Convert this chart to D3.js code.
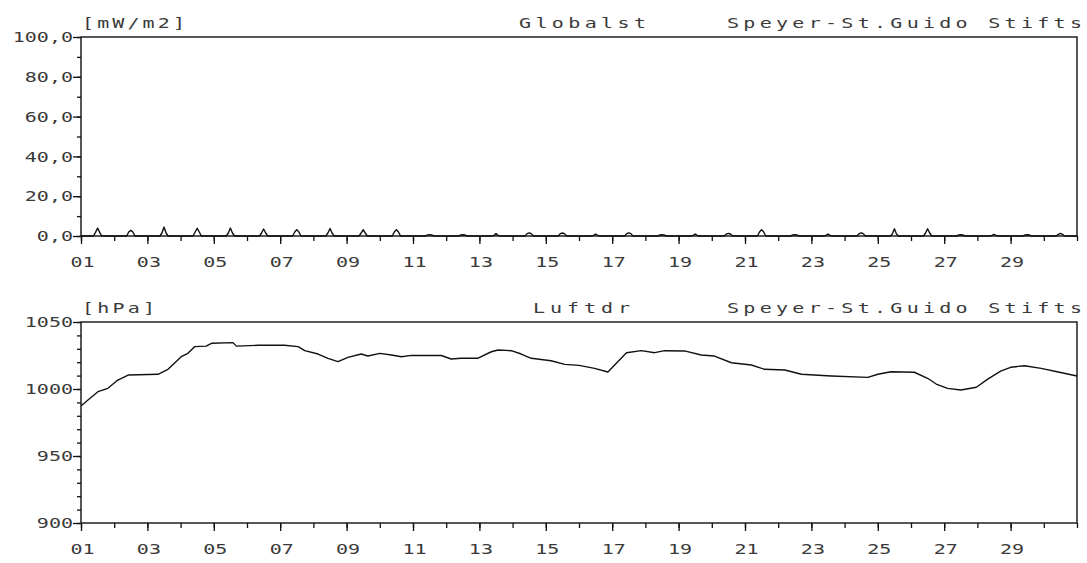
<!DOCTYPE html>
<html><head><meta charset="utf-8">
<script src="https://cdn.jsdelivr.net/npm/d3@7"></script>
<style>
body{margin:0;background:#fff;}
svg text{font-family:"DejaVu Sans Mono",monospace;fill:#3a3a3a;}
</style></head>
<body><svg id="c" width="1087" height="563"></svg>
<script>
// ---- data ----
const station = "Speyer-St.Guido Stifts";
const solarTitle = "Globalst", solarUnit = "[mW/m2]";
const pressTitle = "Luftdr", pressUnit = "[hPa]";
const days = d3.range(1, 31);               // day of month
const solarHours = [9, 10.5, 12, 13.5, 15]; // hours of each daily sample
const solarValues = [
 [0,1.8,4,1.8,0],[0,2,2.8,2,0],[0,1.5,4.5,1.5,0],[0,2,3.8,2,0],[0,1.5,4,1.5,0],
 [0,1.5,3.5,1.5,0],[0,2,3.2,2,0],[0,1.5,3.8,1.5,0],[0,1.5,3.2,1.5,0],[0,2,3.2,2,0],
 [0,0.5,0.7,0.5,0],[0,0.5,0.6,0.5,0],[0,0.3,1.2,0.3,0],[0,1.2,1.6,1.2,0],[0,1.2,1.5,1.2,0],
 [0,0.3,1,0.3,0],[0,1.2,1.6,1.2,0],[0,0.5,0.6,0.5,0],[0,0.3,1,0.3,0],[0,1,1.3,1,0],
 [0,2,3.2,2,0],[0,0.5,0.6,0.5,0],[0,0.3,1,0.3,0],[0,1.2,1.6,1.2,0],[0,1,3.6,1,0],
 [0,1.5,3.6,1.5,0],[0,0.5,0.6,0.5,0],[0,0.3,0.8,0.3,0],[0,0.5,0.6,0.5,0],[0,0.8,1.3,0.8,0]
];
const pressTime = [1.0,1.21,1.51,1.81,2.11,2.42,3.32,3.62,4.02,4.22,4.42,4.77,4.93,5.58,5.68,6.33,7.13,7.54,7.74,8.14,8.44,8.74,9.04,9.44,9.64,10.0,10.35,10.65,10.95,11.85,12.15,12.45,12.96,13.36,13.56,13.96,14.26,14.56,15.16,15.57,16.0,16.47,16.87,17.43,17.88,18.28,18.58,19.18,19.68,20.08,20.59,21.19,21.59,22.2,22.7,23.6,24.7,25.0,25.4,26.1,26.5,26.76,27.1,27.5,27.97,28.3,28.7,29.0,29.42,29.92,30.4,31.0];
const pressValues = [987.3,991.8,998,1000.5,1006.7,1010.4,1011,1014.7,1024.1,1026.6,1031.6,1032,1034.1,1034.6,1032,1032.6,1032.6,1031.6,1028.6,1026.1,1022.9,1020.4,1023.6,1026.1,1024.6,1026.6,1025.4,1024.1,1025.1,1025,1022.4,1022.9,1023,1027.8,1029.1,1028.6,1026.1,1022.9,1021.1,1018.4,1017.6,1015.4,1012.7,1027.1,1028.6,1027.1,1028.6,1028.4,1025.4,1024.6,1019.6,1017.9,1014.7,1014.2,1011,1009.7,1008.7,1011,1012.9,1012.5,1008,1003.7,1000.5,999.3,1001.3,1007.2,1013.4,1016.2,1017.4,1015.4,1012.9,1009.7];
const solarTicks = [0,20,40,60,80,100];
const pressTicks = [900,950,1000,1050];
const xLabelDays = d3.range(1, 30, 2);

// ---- drawing ----
const svg = d3.select("#c");
const L = 81, R = 1077;
const x = d3.scaleLinear().domain([1, 31]).range([L, R]);
const FS = 14.5, SX = 1.38;   // font size, horizontal glyph stretch

function panel(o){
  const g = svg.append("g");
  const y = d3.scaleLinear().domain(o.domain).range([o.bottom, o.top]);
  g.append("g").attr("transform",`translate(${L},0)`)
    .call(d3.axisLeft(y).tickValues(d3.range(o.domain[0], o.domain[1]+0.001, o.minor)).tickSize(4).tickFormat(""))
    .call(a=>a.select(".domain").remove());
  g.append("g").attr("transform",`translate(${L},0)`)
    .call(d3.axisLeft(y).tickValues(o.ticks).tickSize(8).tickPadding(1).tickFormat(o.fmt))
    .call(a=>a.select(".domain").remove())
    .call(a=>a.selectAll("text").attr("font-size",FS).attr("fill","#3a3a3a")
        .attr("x",-8/SX).attr("transform",`scale(${SX},1)`));
  g.append("g").attr("transform",`translate(0,${o.bottom})`)
    .call(d3.axisBottom(x).tickValues(d3.range(1,32)).tickSize(5).tickFormat(""))
    .call(a=>a.select(".domain").remove());
  g.append("g").attr("transform",`translate(0,${o.bottom})`)
    .call(d3.axisBottom(x).tickValues(xLabelDays).tickSize(8).tickPadding(13).tickFormat(d3.format("02d")))
    .call(a=>a.select(".domain").remove())
    .call(a=>a.selectAll("text").attr("font-size",FS).attr("fill","#3a3a3a")
        .attr("x",1/SX).attr("transform",`scale(${SX},1)`));
  g.selectAll(".tick line").attr("stroke","#111").attr("stroke-width",1.3);
  g.append("rect").attr("x",L).attr("y",o.top).attr("width",R-L).attr("height",o.bottom-o.top)
    .attr("fill","none").attr("stroke","#111").attr("stroke-width",1.4);
  g.append("path").datum(o.data)
    .attr("d", d3.line().x(d=>x(d[0])).y(d=>y(d[1])))
    .attr("fill","none").attr("stroke","#111").attr("stroke-width",1.4).attr("stroke-linejoin","round");
  const ty = o.top - 9;
  const t = (txt, x0, x1) => g.append("g").attr("transform",`translate(${x0},${ty}) scale(${SX},1)`)
      .append("text").attr("font-size",FS)
      .attr("textLength",(x1-x0)/SX).attr("lengthAdjust","spacing").text(txt);
  t(o.unit, 82, o.ux1);
  t(o.title, o.tx0, o.tx1);
  t(station, 727, 1082);
  return y;
}

const solarData = [[1,0]];
days.forEach((d,i)=>{ solarHours.forEach((h,j)=>solarData.push([d + h/24, solarValues[i][j]])); });
solarData.push([31,0]);

panel({top:37,bottom:236,domain:[0,100],ticks:solarTicks,minor:10,
  fmt:d=>d3.format(".1f")(d).replace(".",","),data:solarData,unit:solarUnit,ux1:185,title:solarTitle,tx0:519,tx1:646});

const pressData = pressTime.map((t,i)=>[t, pressValues[i]]);
panel({top:322,bottom:523,domain:[900,1050],ticks:pressTicks,minor:10,
  fmt:d3.format("d"),data:pressData,unit:pressUnit,ux1:155,title:pressTitle,tx0:533,tx1:630});
</script></body></html>
